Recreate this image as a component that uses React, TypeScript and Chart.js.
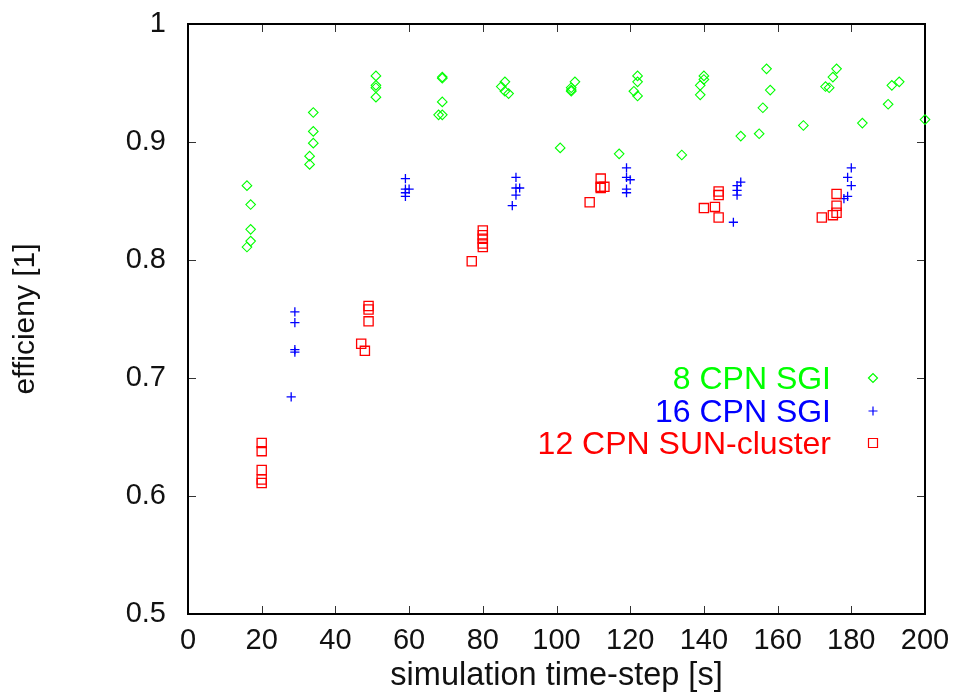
import React, { useEffect, useRef } from 'react';
import { Chart, registerables } from 'chart.js';

Chart.register(...registerables);

// ---- data ----
const sgi8X = [16, 17, 17, 17, 16, 34, 34, 34, 33, 33, 51, 51, 51, 51, 69, 69, 69, 68, 69, 86, 85, 86, 87, 105, 104, 104, 104, 101, 117, 122, 122, 121, 122, 140, 140, 139, 139, 134, 150, 155, 156, 157, 158, 167, 173, 174, 175, 176, 183, 190, 191, 193, 200];
const sgi8Y = [0.863, 0.847, 0.826, 0.816, 0.811, 0.925, 0.909, 0.899, 0.888, 0.881, 0.956, 0.948, 0.946, 0.938, 0.955, 0.954, 0.934, 0.923, 0.923, 0.951, 0.947, 0.943, 0.941, 0.951, 0.946, 0.944, 0.943, 0.895, 0.890, 0.956, 0.951, 0.943, 0.939, 0.956, 0.953, 0.948, 0.940, 0.889, 0.905, 0.907, 0.929, 0.962, 0.944, 0.914, 0.947, 0.946, 0.955, 0.962, 0.916, 0.932, 0.948, 0.951, 0.919];

const sgi16X = [29, 29, 29, 29, 28, 59, 59, 60, 59, 59, 89, 89, 90, 89, 88, 119, 119, 120, 119, 119, 149, 150, 149, 149, 148, 180, 179, 180, 179, 178];
const sgi16Y = [0.756, 0.747, 0.724, 0.722, 0.684, 0.869, 0.860, 0.860, 0.857, 0.854, 0.870, 0.861, 0.861, 0.855, 0.846, 0.878, 0.870, 0.868, 0.860, 0.857, 0.863, 0.866, 0.859, 0.855, 0.832, 0.878, 0.870, 0.863, 0.854, 0.852];

const sunX = [20, 20, 20, 20, 20, 49, 49, 49, 47, 48, 80, 80, 80, 80, 80, 77, 112, 112, 113, 112, 109, 144, 144, 143, 140, 144, 176, 176, 176, 175, 172];
const sunY = [0.645, 0.638, 0.622, 0.614, 0.611, 0.761, 0.758, 0.748, 0.729, 0.723, 0.825, 0.821, 0.818, 0.814, 0.811, 0.799, 0.869, 0.862, 0.862, 0.861, 0.849, 0.858, 0.855, 0.845, 0.844, 0.836, 0.856, 0.846, 0.840, 0.838, 0.836];

const seriesLabels = ['8 CPN SGI', '16 CPN SGI', '12 CPN SUN-cluster'];
const seriesColors = ['#00ff00', '#0000ff', '#ff0000'];
const seriesStyles = ['rectRot', 'cross', 'rect'];

const xTickValues = [0, 20, 40, 60, 80, 100, 120, 140, 160, 180, 200];
const yTickValues = [0.5, 0.6, 0.7, 0.8, 0.9, 1];

const xTitle = 'simulation time-step [s]';
const yTitle = 'efficieny [1]';

// ---- styling ----
const FAMILY = '"Liberation Sans", Arial, Helvetica, sans-serif';
const TICK_FONT = { family: FAMILY, size: 29 };
const LEGEND_FONT = '32px ' + FAMILY;

function toPoints(xs: number[], ys: number[]) {
  return xs.map((x, i) => ({ x, y: ys[i] }));
}

function drawMarker(ctx: CanvasRenderingContext2D, style: string, x: number, y: number) {
  ctx.beginPath();
  if (style === 'rectRot') {
    const r = 4.5;
    ctx.moveTo(x - r, y);
    ctx.lineTo(x, y - r);
    ctx.lineTo(x + r, y);
    ctx.lineTo(x, y + r);
    ctx.closePath();
  } else if (style === 'cross') {
    const r = 4.5;
    ctx.moveTo(x - r, y);
    ctx.lineTo(x + r, y);
    ctx.moveTo(x, y - r);
    ctx.lineTo(x, y + r);
  } else {
    const h = 4.5;
    ctx.rect(x - h, y - h, 2 * h, 2 * h);
  }
  ctx.stroke();
}

const framePlugin = {
  id: 'gnuFrame',
  beforeDatasetsDraw(chart: any) {
    const { ctx, chartArea } = chart;
    const { left, right, top, bottom } = chartArea;
    const xs = chart.scales.x;
    const ys = chart.scales.y;
    ctx.save();
    ctx.strokeStyle = '#333';
    ctx.lineWidth = 1;
    ctx.beginPath();
    const tl = 8;
    xs.ticks.forEach((t: any) => {
      const px = Math.round(xs.getPixelForValue(t.value)) + 0.5;
      ctx.moveTo(px, bottom);
      ctx.lineTo(px, bottom - tl);
      ctx.moveTo(px, top);
      ctx.lineTo(px, top + tl);
    });
    ys.ticks.forEach((t: any) => {
      const py = Math.round(ys.getPixelForValue(t.value)) + 0.5;
      ctx.moveTo(left, py);
      ctx.lineTo(left + tl, py);
      ctx.moveTo(right, py);
      ctx.lineTo(right - tl, py);
    });
    ctx.stroke();
    ctx.strokeStyle = '#000';
    ctx.lineWidth = 2;
    ctx.strokeRect(left, top, right - left, bottom - top);
    ctx.restore();
  },
};

const legendPlugin = {
  id: 'gnuLegend',
  afterDraw(chart: any) {
    const ctx = chart.ctx as CanvasRenderingContext2D;
    const textRight = 831;
    const markerX = 873;
    const rowY = [378, 411, 443];
    ctx.save();
    chart.data.datasets.forEach((ds: any, i: number) => {
      const yy = rowY[i];
      ctx.font = LEGEND_FONT;
      ctx.fillStyle = ds.borderColor;
      ctx.textAlign = 'right';
      ctx.textBaseline = 'alphabetic';
      ctx.fillText(ds.label, textRight, yy + 11);
      ctx.strokeStyle = ds.borderColor;
      ctx.lineWidth = 1.2;
      drawMarker(ctx, ds.pointStyle, markerX, yy);
    });
    ctx.restore();
  },
};

export default function App() {
  const canvasRef = useRef<HTMLCanvasElement | null>(null);

  useEffect(() => {
    const canvas = canvasRef.current;
    if (!canvas) return;
    const sets = [
      { xs: sgi8X, ys: sgi8Y, r: 4.8, bw: 1.1 },
      { xs: sgi16X, ys: sgi16Y, r: 4.6, bw: 1.3 },
      { xs: sunX, ys: sunY, r: 6.5, bw: 1.3 },
    ];
    const chart = new Chart(canvas, {
      type: 'scatter',
      data: {
        datasets: sets.map((s, i) => ({
          label: seriesLabels[i],
          data: toPoints(s.xs, s.ys),
          pointStyle: seriesStyles[i] as any,
          pointRadius: s.r,
          pointHoverRadius: s.r,
          borderColor: seriesColors[i],
          backgroundColor: 'rgba(0,0,0,0)',
          pointBorderWidth: s.bw,
          borderWidth: s.bw,
          showLine: false,
          clip: false as any,
          order: 2 - i,
        })),
      },
      options: {
        animation: false,
        responsive: false,
        devicePixelRatio: 1,
        layout: { padding: { left: 0, right: 32, top: 24, bottom: 0 } },
        plugins: {
          legend: { display: false },
          tooltip: { enabled: false },
        },
        scales: {
          x: {
            type: 'linear',
            min: 0,
            max: 200,
            afterBuildTicks: (scale: any) => {
              scale.ticks = xTickValues.map((v) => ({ value: v }));
            },
            afterFit: (scale: any) => {
              scale.height = 85;
              scale.paddingLeft = 0;
              scale.paddingRight = 0;
            },
            grid: { display: false, drawTicks: false },
            border: { display: false },
            ticks: {
              font: TICK_FONT,
              color: '#111',
              padding: 10,
              maxRotation: 0,
              autoSkip: false,
              callback: (v: any) => String(v),
            },
            title: {
              display: true,
              text: xTitle,
              font: { family: FAMILY, size: 32.5 },
              color: '#111',
              padding: { top: 0, bottom: 3 },
            },
          },
          y: {
            type: 'linear',
            min: 0.5,
            max: 1,
            afterBuildTicks: (scale: any) => {
              scale.ticks = yTickValues.map((v) => ({ value: v }));
            },
            afterFit: (scale: any) => {
              scale.width = 188;
              scale.paddingTop = 0;
              scale.paddingBottom = 0;
            },
            grid: { display: false, drawTicks: false },
            border: { display: false },
            ticks: {
              font: TICK_FONT,
              color: '#111',
              padding: 22,
              autoSkip: false,
              callback: (v: any) => String(Number(Number(v).toFixed(1))),
            },
            title: {
              display: true,
              text: yTitle,
              font: { family: FAMILY, size: 30 },
              color: '#111',
              padding: { top: 8, bottom: 0 },
            },
          },
        },
      },
      plugins: [framePlugin, legendPlugin],
    });
    return () => chart.destroy();
  }, []);

  return (
    <div style={{ position: 'absolute', left: 0, top: 0, width: 957, height: 699, background: '#fff' }}>
      <canvas ref={canvasRef} width={957} height={699} style={{ display: 'block' }} />
    </div>
  );
}
